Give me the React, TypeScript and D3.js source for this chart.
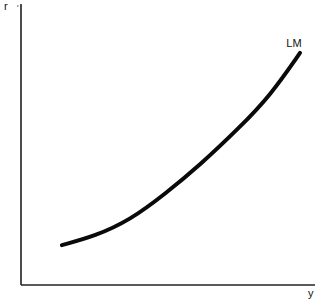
import React from "react";
import * as d3 from "d3";

const incomeValues = [13.9, 25.2, 37.1, 49.0, 60.9, 74.5, 84.7, 94.9];
const rateValues = [14.2, 17.4, 23.1, 32.4, 42.7, 56.2, 67.3, 82.6];
const curveLabel = "LM";
const xAxisLabel = "y";
const yAxisLabel = "r";

const W = 320;
const H = 303;

export default function App() {
  const x = d3.scaleLinear().domain([0, 100]).range([21, 315]);
  const y = d3.scaleLinear().domain([0, 100]).range([285, 4]);
  const pts = incomeValues.map((v, i) => [v, rateValues[i]] as [number, number]);
  const line = d3
    .line<[number, number]>()
    .x((d) => x(d[0]))
    .y((d) => y(d[1]))
    .curve(d3.curveBasis);
  const last = pts[pts.length - 1];
  return (
    <svg
      width={W}
      height={H}
      style={{ position: "absolute", left: 0, top: 0, background: "#fff" }}
      fontFamily="'Liberation Sans', Arial, sans-serif"
    >
      <line x1={x(0)} y1={y(100)} x2={x(0)} y2={y(0)} stroke="#111" strokeWidth={1.5} />
      <line x1={x(0)} y1={y(0)} x2={x(100)} y2={y(0)} stroke="#222" strokeWidth={1.5} />
      <line x1={x(0) - 4} y1={6} x2={x(0) - 2.5} y2={6} stroke="#444" strokeWidth={1.2} />
      <text x={4} y={10} fontSize={11} fill="#111">{yAxisLabel}</text>
      <text x={308} y={297} fontSize={11} fill="#111">{xAxisLabel}</text>
      <path d={line(pts) || ""} fill="none" stroke="#0a0a0a" strokeWidth={4} strokeLinecap="round" />
      <text x={x(last[0]) - 6} y={y(last[1]) - 6} fontSize={11} fill="#111" textAnchor="middle">{curveLabel}</text>
    </svg>
  );
}
